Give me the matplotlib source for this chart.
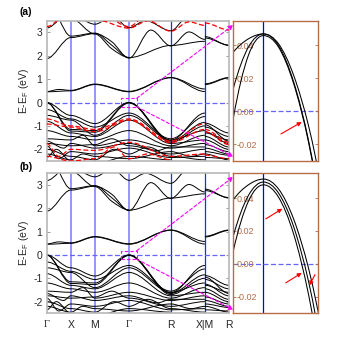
import numpy as np
import matplotlib
matplotlib.use("Agg")
import matplotlib.pyplot as plt
from matplotlib.path import Path
from matplotlib.patches import PathPatch, Rectangle

plt.rcParams['font.family'] = ['Liberation Sans', 'DejaVu Sans']
plt.rcParams['axes.unicode_minus'] = False
plt.rcParams['mathtext.fontset'] = 'custom'
plt.rcParams['mathtext.rm'] = 'Liberation Sans'
plt.rcParams['mathtext.it'] = 'Liberation Sans:italic'

# high-symmetry path (simple cubic)
kpts = [0.0, 0.5, 1.0, 1.707, 2.573, 3.280, 3.780]
klabels = ['Γ', 'X', 'M', 'Γ', 'R', 'X|M', 'R']

# band knots (k, E); a repeated k at X|M starts a new piece
bands_black = [
    [(0, 0.46), (0.5, 0.50), (1.0, 0.77), (1.707, 0.46), (2.573, 1.06), (3.28, 0.47), (3.28, 0.77), (3.78, 1.05)],
    [(0, 0.47), (0.25, 0.56), (0.5, 0.52), (1.0, 0.79), (1.707, 0.48), (2.573, 1.07), (3.28, 0.58), (3.28, 0.80), (3.78, 1.07)],
    [(0, 1.88), (0.5, 2.78), (1.0, 2.95), (1.35, 2.60), (1.707, 1.90), (2.16, 3.10), (2.573, 2.42), (2.95, 3.02), (3.28, 2.70), (3.28, 2.82), (3.78, 2.44)],
    [(0, 4.40), (0.5, 2.84), (1.0, 2.97), (1.35, 2.45), (1.707, 1.92), (2.573, 2.44), (3.28, 2.62), (3.28, 2.76), (3.78, 2.46)],
    [(0.5, 3.60), (1.0, 2.93), (1.35, 2.30), (1.707, 1.93)],
    [(0, 3.19), (0.5, 3.90)],
    [(0.5, 3.75), (1.0, 3.35), (1.25, 3.60)],
    [(1.45, 3.60), (1.707, 3.20), (2.05, 3.50), (2.573, 3.07), (2.85, 3.60)],
    [(0, 0.0), (0.5, -0.55), (1.0, -0.90), (1.707, 0.0), (2.573, -1.62), (3.28, -0.45), (3.28, -0.88), (3.78, -1.30)],
    [(0, 0.0), (0.5, -1.15), (1.0, -1.20), (1.707, 0.0), (2.573, -1.65), (3.28, -0.85), (3.28, -0.95), (3.78, -1.65)],
    [(0, 0.0), (0.5, -1.22), (1.0, -1.27), (1.707, -0.02), (2.573, -1.70), (3.28, -1.00), (3.28, -1.25), (3.78, -1.75)],
    [(0, -0.30), (0.5, -0.70), (1.0, -1.05), (1.707, -0.45), (2.573, -1.55), (3.28, -0.60), (3.28, -1.05), (3.78, -1.45)],
    [(0, -0.55), (0.5, -0.75), (1.0, -1.40), (1.707, -0.55), (2.573, -1.60), (3.28, -1.20), (3.28, -1.45), (3.78, -1.90)],
    [(0, -0.80), (0.5, -1.30), (1.0, -1.45), (1.707, -0.75), (2.573, -1.75), (3.28, -1.60), (3.28, -1.60), (3.78, -2.00)],
    [(0, -1.20), (0.5, -1.45), (1.0, -1.60), (1.707, -1.20), (2.573, -1.85), (3.28, -1.40), (3.28, -1.30), (3.78, -1.60)],
    [(0, -1.55), (0.5, -1.60), (0.75, -1.40), (1.0, -1.85), (1.707, -1.60), (2.573, -1.95), (3.28, -1.75), (3.28, -1.80), (3.78, -2.10)],
    [(0, -1.65), (0.35, -1.95), (0.5, -1.75), (1.0, -1.95), (1.707, -1.75), (2.3, -2.05), (2.573, -1.90), (3.28, -1.90), (3.28, -1.95), (3.78, -2.20)],
    [(0, -1.75), (0.5, -1.85), (1.0, -1.80), (1.35, -1.55), (1.707, -1.85), (2.573, -2.20), (3.28, -2.00), (3.28, -2.10), (3.78, -2.25)],
    [(0, -1.85), (0.25, -2.40), (0.5, -2.10), (1.0, -2.20), (1.707, -1.95), (2.573, -2.35), (3.28, -2.30), (3.28, -2.35), (3.78, -2.40)],
    [(0, -2.00), (0.5, -2.30), (1.0, -2.45), (1.4, -2.00), (1.707, -2.20), (2.1, -1.90), (2.573, -2.30), (3.28, -2.45)],
    [(0, -2.20), (0.5, -2.45), (0.75, -2.20), (1.0, -2.30), (1.707, -2.40), (2.573, -2.10), (3.0, -2.30), (3.28, -2.20), (3.28, -2.20), (3.78, -2.45)],
    [(0, -2.35), (0.2, -2.00), (0.5, -2.50), (1.0, -2.60), (1.707, -2.30), (2.573, -2.45)],
]

bands_red = [
    [(0, 3.25), (0.5, 3.90)],
    [(0.75, 3.90), (1.0, 3.55), (1.707, 3.18), (2.1, 3.50), (2.573, 3.05), (2.95, 3.45), (3.28, 3.30), (3.28, 3.40), (3.78, 3.10)],
    [(1.2, 3.80), (1.707, 3.25), (2.0, 3.70)],
    [(0, -0.70), (0.5, -1.00), (1.0, -1.15), (1.707, -0.70), (2.573, -1.65), (3.28, -0.90), (3.28, -1.15), (3.78, -1.70)],
    [(0, -0.92), (0.5, -1.05), (1.0, -1.25), (1.707, -0.75), (2.573, -1.72), (3.28, -1.15), (3.28, -1.25), (3.78, -1.80)],
    [(0, -1.75), (0.25, -2.30), (0.5, -2.00), (1.0, -2.05), (1.707, -1.70), (2.573, -2.30), (3.28, -2.20), (3.28, -2.25), (3.78, -2.40)],
    [(0, -2.30), (0.5, -2.50), (1.0, -2.40), (1.4, -1.90), (1.707, -2.40), (2.1, -2.20), (2.573, -2.45)],
]

# zoom around Gamma (inset), k relative to Gamma
inset_a = [
    [(-0.15, 0.022), (-0.1, 0.036), (-0.05, 0.044), (0, 0.047), (0.05, 0.041), (0.1, 0.022), (0.15, -0.009), (0.2, -0.052)],
    [(-0.15, -0.027), (-0.1, 0.014), (-0.05, 0.039), (0, 0.047), (0.05, 0.040), (0.1, 0.018), (0.15, -0.018), (0.2, -0.069)],
    [(-0.15, -0.068), (-0.1, -0.004), (-0.05, 0.034), (0, 0.046), (0.05, 0.039), (0.1, 0.017), (0.15, -0.019), (0.2, -0.070)],
]
inset_b = [
    [(-0.15, 0.023), (-0.1, 0.039), (-0.05, 0.048), (0, 0.0515), (0.05, 0.0455), (0.1, 0.0273), (0.15, -0.003), (0.2, -0.045)],
    [(-0.15, -0.024), (-0.1, 0.017), (-0.05, 0.0415), (0, 0.0497), (0.05, 0.043), (0.1, 0.0227), (0.15, -0.011), (0.2, -0.058)],
    [(-0.15, -0.042), (-0.1, 0.008), (-0.05, 0.038), (0, 0.048), (0.05, 0.0405), (0.1, 0.0182), (0.15, -0.019), (0.2, -0.071)],
]
inset_yticks = [-0.02, 0.0, 0.02, 0.04]
inset_ylabels = ['-0.02', '0.00', '0.02', '0.04']

# red arrows in the insets: (start, end)
arrows_a = [((0.058, -0.0136), (0.127, -0.0064))]
arrows_b = [((0.0075, 0.0273), (0.0626, 0.0335)),
            ((0.074, -0.0115), (0.127, -0.0055)),
            ((0.171, -0.0065), (0.152, -0.0131))]

zoom_box = (1.55, -0.18, 0.315, 0.36)

brown = (0.72, 0.42, 0.28)
light_blue = (0.55, 0.55, 1.0)
fermi_blue = (0.4, 0.4, 1.0)


def band_path(knots, sym=()):
    pieces, cur = [], [knots[0]]
    for p in knots[1:]:
        if p[0] <= cur[-1][0]:
            pieces.append(cur)
            cur = [p]
        else:
            cur.append(p)
    pieces.append(cur)
    verts, codes = [], []
    for piece in pieces:
        if len(piece) < 2:
            continue
        k = np.array([p[0] for p in piece], float)
        e = np.array([p[1] for p in piece], float)
        n = len(k)
        m = np.zeros(n)
        for i in range(n):
            if np.any(np.isclose(k[i], sym)):
                continue
            if i == 0:
                m[i] = (e[1] - e[0]) / (k[1] - k[0])
            elif i == n - 1:
                m[i] = (e[-1] - e[-2]) / (k[-1] - k[-2])
            elif (e[i] - e[i-1]) * (e[i+1] - e[i]) > 0:
                m[i] = (e[i+1] - e[i-1]) / (k[i+1] - k[i-1])
        verts.append((k[0], e[0]))
        codes.append(Path.MOVETO)
        for i in range(n - 1):
            h = k[i+1] - k[i]
            verts += [(k[i] + h/3, e[i] + m[i]*h/3),
                      (k[i+1] - h/3, e[i+1] - m[i+1]*h/3),
                      (k[i+1], e[i+1])]
            codes += [Path.CURVE4] * 3
    return Path(verts, codes)


def draw_main(ax, red, show_labels):
    ax.set_xlim(kpts[0], kpts[-1])
    ax.set_ylim(-2.5, 3.5)
    for k, lab in zip(kpts[1:-1], klabels[1:-1]):
        if lab in ('R', 'X|M'):
            ax.axvline(k, color=(0.15, 0.15, 1.0), lw=0.9, zorder=1)
        else:
            ax.axvline(k, color=light_blue, lw=1.3, zorder=1)
    ax.axhline(0, color=fermi_blue, lw=0.9, ls=(0, (4, 2)), zorder=1)
    for b in bands_black:
        ax.add_patch(PathPatch(band_path(b, kpts), fill=False, ec='k', lw=0.7, zorder=2))
    if red:
        for b in bands_red:
            ax.add_patch(PathPatch(band_path(b, kpts), fill=False, ec='red', lw=0.9,
                                   ls=(0, (4, 2)), zorder=3))
    ax.add_patch(Rectangle(zoom_box[:2], zoom_box[2], zoom_box[3], fill=False,
                           ec='magenta', lw=0.8, ls=(0, (3, 2)), zorder=4))
    ax.set_yticks([-2, -1, 0, 1, 2, 3])
    ax.tick_params(axis='y', direction='in', length=2.5, width=0.6, color='0.55',
                   labelsize=7.5, pad=3, right=True, labelcolor='0.15')
    ax.set_xticks(kpts)
    ax.set_xticklabels(klabels if show_labels else [])
    ax.tick_params(axis='x', length=0, labelsize=7.5, pad=5, labelcolor='0.15')
    if show_labels:
        for t in ax.get_xticklabels():
            if t.get_text() == 'Γ':
                t.set_fontfamily('Liberation Serif')
    for s in ax.spines.values():
        s.set_color('0.72')
        s.set_linewidth(1.2)
    ax.set_ylabel('E-E$_\\mathrm{F}$ (eV)', fontsize=7.5, labelpad=1.5, color='0.15')


def draw_inset(ax, bands, arrows):
    ax.set_xlim(-0.1, 0.18)
    ax.set_ylim(-0.03, 0.055)
    ax.axvline(0, color='blue', lw=0.9, zorder=1)
    ax.axhline(0, color=fermi_blue, lw=0.9, ls=(0, (4, 2)), zorder=1)
    for b in bands:
        ax.add_patch(PathPatch(band_path(b, [0.0]), fill=False, ec='k', lw=0.75, zorder=2))
    for (x0, y0), (x1, y1) in arrows:
        ax.annotate('', xy=(x1, y1), xytext=(x0, y0),
                    arrowprops=dict(arrowstyle='-|>', color='red', lw=0.8,
                                    mutation_scale=6, shrinkA=0, shrinkB=0))
    ax.set_xticks([])
    ax.set_yticks(inset_yticks)
    ax.set_yticklabels(inset_ylabels)
    ax.tick_params(axis='y', direction='in', length=2.5, width=0.6, color=brown,
                   labelcolor=brown, labelsize=6.5, pad=-2.5, right=True)
    for t in ax.get_yticklabels():
        t.set_horizontalalignment('left')
    for s in ax.spines.values():
        s.set_color(brown)
        s.set_linewidth(1.0)


fig = plt.figure(figsize=(3.47, 3.40), dpi=100)
ax_a = fig.add_axes([0.1346, 0.5265, 0.5254, 0.4126])
in_a = fig.add_axes([0.6724, 0.5265, 0.2432, 0.4126])
ax_b = fig.add_axes([0.1346, 0.0785, 0.5254, 0.4118])
in_b = fig.add_axes([0.6724, 0.0785, 0.2432, 0.4118])

draw_main(ax_a, True, False)
draw_main(ax_b, False, True)
draw_inset(in_a, inset_a, arrows_a)
draw_inset(in_b, inset_b, arrows_b)

for ax, axin, (f1, f2) in [(ax_a, in_a, (0.97, 0.03)), (ax_b, in_b, (0.975, 0.025))]:
    x0, y0, w, h = zoom_box
    for start, frac in [((x0 + w, y0 + h), f1), ((x0 + w, y0), f2)]:
        ax.annotate('', xy=(0.0, frac), xycoords=axin.transAxes,
                    xytext=start, textcoords='data',
                    arrowprops=dict(arrowstyle='-|>', color='magenta', lw=0.8,
                                    ls=(0, (3, 2)), mutation_scale=7,
                                    shrinkA=0, shrinkB=0))

fig.text(0.075, 0.966, '(a)', fontsize=7.5, fontweight='bold', ha='center', va='center')
fig.text(0.075, 0.509, '(b)', fontsize=7.5, fontweight='bold', ha='center', va='center')

fig.savefig('out.png', dpi=100)
